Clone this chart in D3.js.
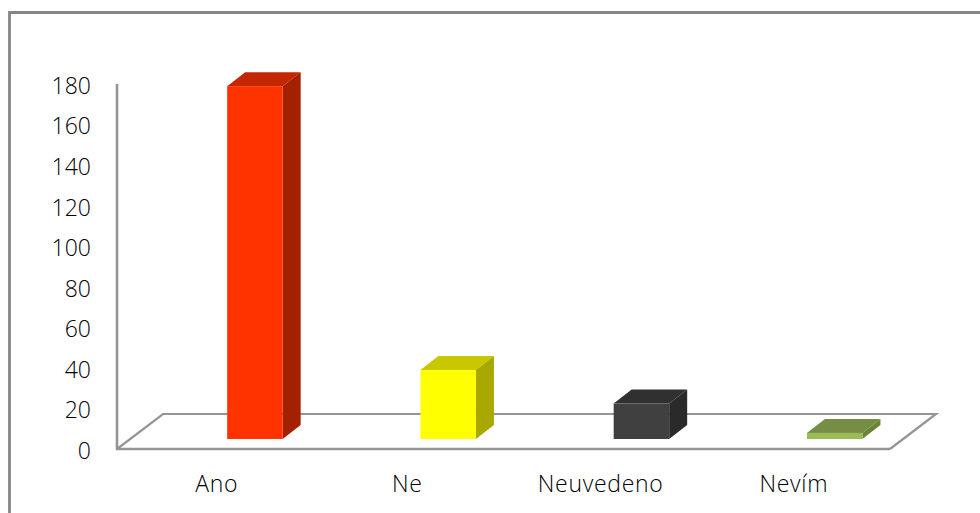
<!DOCTYPE html>
<html>
<head>
<meta charset="utf-8">
<script src="https://cdn.jsdelivr.net/npm/d3@7"></script>
<style>
  html, body { margin: 0; padding: 0; background: #fff; }
  svg { display: block; }
  text { font-family: "Open Sans", sans-serif; font-weight: 300; fill: #000; }
</style>
</head>
<body>
<svg id="chart" width="980" height="513"></svg>
<script>
const categories = ["Ano", "Ne", "Neuvedeno", "Nevím"];
const values = [174, 34, 17.5, 3];
const frontColors = ["#ff3300", "#ffff00", "#404040", "#9bbb59"];
const topColors = ["#c42700", "#c8c800", "#303030", "#768e44"];
const sideColors = ["#a32000", "#a8a800", "#2a2a2a", "#6a8336"];
const yTicks = [0, 20, 40, 60, 80, 100, 120, 140, 160, 180];

const svg = d3.select("#chart");
const plotLeft = 117, plotRight = 890, plotBottom = 449, plotTop = 84;
const floorDx = 46, floorDy = -35;   // depth of the floor
const barDx = 18, barDy = -14;       // depth of a bar
const barBase = plotBottom - 10;

const x = d3.scaleBand().domain(categories).range([plotLeft, plotRight]);
const y = d3.scaleLinear().domain([0, 180]).range([plotBottom, plotTop]);
const barWidth = 55.5;

// outer frame, right and bottom edges fall off the picture
svg.append("path")
  .attr("d", "M9.5,513V12.5H980")
  .attr("fill", "none")
  .attr("stroke", "#868686")
  .attr("stroke-width", 2.8);

// floor and wall
const grid = svg.append("g").attr("fill", "none").attr("stroke", "#959595");
grid.append("path")
  .attr("d", `M${plotLeft},${plotTop}V${plotBottom}H${plotRight}`)
  .attr("stroke-width", 2.6);
grid.append("path")
  .attr("d", `M${plotLeft},${plotBottom}L${plotLeft + floorDx},${plotBottom + floorDy}H${plotRight + floorDx}L${plotRight},${plotBottom}`)
  .attr("stroke-width", 2.2);

const yAxis = d3.axisLeft(y).tickValues(yTicks).tickSize(0).tickPadding(0);
const yG = svg.append("g")
  .attr("transform", "translate(91,2)")
  .call(yAxis);
yG.select(".domain").remove();
yG.attr("font-family", null).attr("font-size", null);
yG.selectAll("text").attr("font-size", 23);

// bars
const bars = svg.append("g").selectAll("g")
  .data(categories)
  .enter()
  .append("g");

const barLeft = d => x(d) + x.bandwidth() / 2 + 41.3 - barWidth / 2;
const barTop = (d, i) => barBase - (y(0) - y(values[i]));

bars.append("path")
  .attr("fill", (d, i) => topColors[i])
  .attr("d", (d, i) => {
    const x0 = barLeft(d), y0 = barTop(d, i);
    return `M${x0},${y0}l${barDx},${barDy}h${barWidth}l${-barDx},${-barDy}Z`;
  });

bars.append("path")
  .attr("fill", (d, i) => sideColors[i])
  .attr("d", (d, i) => {
    const x0 = barLeft(d) + barWidth, y0 = barTop(d, i);
    return `M${x0},${y0}l${barDx},${barDy}V${barBase + barDy}l${-barDx},${-barDy}Z`;
  });

bars.append("rect")
  .attr("x", barLeft)
  .attr("y", barTop)
  .attr("width", barWidth)
  .attr("height", (d, i) => barBase - barTop(d, i))
  .attr("fill", (d, i) => frontColors[i]);

// category labels
svg.append("g").selectAll("text")
  .data(categories)
  .enter()
  .append("text")
  .attr("x", d => x(d) + x.bandwidth() / 2 + (d === "Ano" ? 3 : 0.5))
  .attr("y", 492)
  .attr("text-anchor", "middle")
  .attr("font-size", 23)
  .attr("letter-spacing", 0.7)
  .text(d => d);
</script>
</body>
</html>
